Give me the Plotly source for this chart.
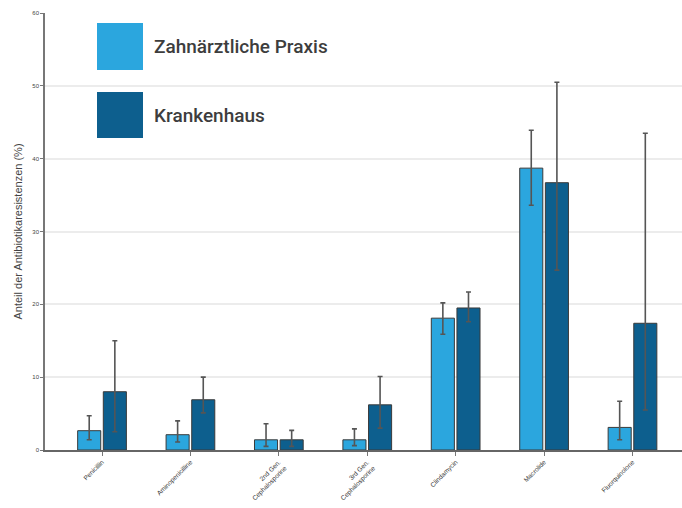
import plotly.graph_objects as go

categories = ["Penicillin", "Aminopenicilline", "2nd Gen.<br>Cephalosporine", "3rd Gen.<br>Cephalosporine",
              "Clindamycin", "Macrolide", "Fluorquinolone"]
praxis = [2.65, 2.1, 1.4, 1.4, 18.1, 38.7, 3.1]
praxis_plus = [2.05, 1.9, 2.2, 1.5, 2.1, 5.2, 3.6]
praxis_minus = [1.25, 1.0, 0.9, 0.8, 2.2, 5.1, 1.7]
kh = [8.0, 6.9, 1.4, 6.2, 19.5, 36.7, 17.4]
kh_plus = [7.0, 3.1, 1.3, 3.9, 2.2, 13.8, 26.1]
kh_minus = [5.5, 1.8, 0.9, 3.2, 1.9, 12.0, 11.9]
legend_names = ["Zahnärztliche Praxis", "Krankenhaus"]
colors = ["#2ba6de", "#0d5f8e"]

fig = go.Figure()
for name, vals, ep, em, col in [(legend_names[0], praxis, praxis_plus, praxis_minus, colors[0]),
                                (legend_names[1], kh, kh_plus, kh_minus, colors[1])]:
    fig.add_trace(go.Bar(
        x=list(range(len(categories))), y=vals, name=name,
        marker=dict(color=col, line=dict(color="#3a3a3a", width=1)),
        error_y=dict(type="data", symmetric=False, array=ep, arrayminus=em,
                     color="#555555", thickness=1.6, width=2.5),
    ))

fig.update_layout(
    width=682, height=508,
    margin=dict(l=45, r=0, t=13, b=58),
    paper_bgcolor="white", plot_bgcolor="white",
    barmode="group", bargap=0.42, bargroupgap=0.1,
    showlegend=False,
    font=dict(family="Liberation Sans, Arial, sans-serif", color="#444444"),
)
fig.update_xaxes(
    range=[-0.645, 6.56], tickmode="array", tickvals=list(range(len(categories))),
    ticktext=categories, tickangle=-45, tickfont=dict(size=6.5, color="#333333"),
    showline=True, linecolor="#666666", linewidth=1.5, ticks="outside", ticklen=4,
    tickcolor="#777777", showgrid=False, zeroline=False,
)
fig.update_yaxes(
    range=[0, 60], dtick=10, tickfont=dict(size=6, color="#444444"),
    showline=True, linecolor="#777777", linewidth=1.5, ticks="outside", ticklen=3,
    tickcolor="#777777", showgrid=True, gridcolor="#ececec", gridwidth=1.5, zeroline=False,
    title=dict(text="Anteil der Antibiotikaresistenzen (%)", font=dict(size=11, color="#444444"), standoff=8),
)

# legend drawn as large squares with labels
ys = [(23, 70), (92, 138)]
for (y0, y1), name, col in zip(ys, legend_names, colors):
    fig.add_shape(type="rect", xref="paper", yref="paper",
                  x0=(97 - 45) / 637, x1=(143 - 45) / 637,
                  y0=1 - (y1 - 13) / 437, y1=1 - (y0 - 13) / 437,
                  fillcolor=col, line=dict(width=0))
    fig.add_annotation(xref="paper", yref="paper", x=(152 - 45) / 637,
                       y=1 - ((y0 + y1) / 2 - 13) / 437, text=name, showarrow=False,
                       xanchor="left", yanchor="middle",
                       font=dict(family="Roboto, sans-serif", weight=500,
                                 size=19, color="#3d3d3d"))

fig.write_html("out.html")
